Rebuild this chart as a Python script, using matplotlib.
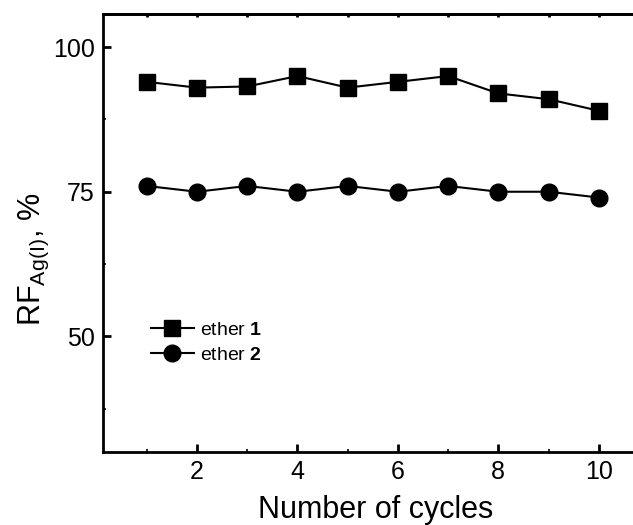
import matplotlib.pyplot as plt
from matplotlib.ticker import MultipleLocator

plt.rcParams['font.family'] = ['Liberation Sans', 'DejaVu Sans']
plt.rcParams['mathtext.fontset'] = 'custom'
plt.rcParams['mathtext.rm'] = 'Liberation Sans'
plt.rcParams['mathtext.bf'] = 'Liberation Sans:bold'
plt.rcParams['mathtext.it'] = 'Liberation Sans:italic'

# 数据
cycles = [1, 2, 3, 4, 5, 6, 7, 8, 9, 10]
ether1 = [94, 93, 93.2, 95, 93, 94, 95, 92, 91, 89]
ether2 = [76, 75, 76, 75, 76, 75, 76, 75, 75, 74]

fig = plt.figure(figsize=(6.33, 5.25), dpi=100)
ax = fig.add_axes([0.1627, 0.139, 0.8627, 0.834])

ax.plot(cycles, ether1, color='black', lw=1.5, marker='s', ms=12, label=r'ether $\mathbf{1}$')
ax.plot(cycles, ether2, color='black', lw=1.5, marker='o', ms=12, label=r'ether $\mathbf{2}$')

ax.set_xlim(0.13, 11.0)
ax.set_ylim(30, 105.7)
ax.xaxis.set_major_locator(MultipleLocator(2))
ax.xaxis.set_minor_locator(MultipleLocator(1))
ax.yaxis.set_major_locator(MultipleLocator(25))
ax.yaxis.set_minor_locator(MultipleLocator(12.5))

for s in ax.spines.values():
    s.set_linewidth(2)
ax.tick_params(which='major', direction='in', length=6, width=2, labelsize=18, pad=6)
ax.tick_params(which='minor', direction='in', length=2, width=1.2)

# 顶部小刻度
top = ax.secondary_xaxis('top')
top.xaxis.set_major_locator(MultipleLocator(1))
top.tick_params(direction='in', length=2, width=2, labeltop=False)
top.spines['top'].set_linewidth(2)

ax.set_xlabel('Number of cycles', fontsize=22, labelpad=8)
ax.set_ylabel(r'RF$_{\mathrm{Ag(I)}}$, %', fontsize=22)
ax.yaxis.set_label_coords(-0.095, 0.44)

ax.legend(loc='upper left', bbox_to_anchor=(0.07, 0.32), frameon=False, fontsize=14,
          handlelength=2.2, handletextpad=0.3, labelspacing=0.35, borderpad=0)

fig.savefig('out.png', dpi=100)
